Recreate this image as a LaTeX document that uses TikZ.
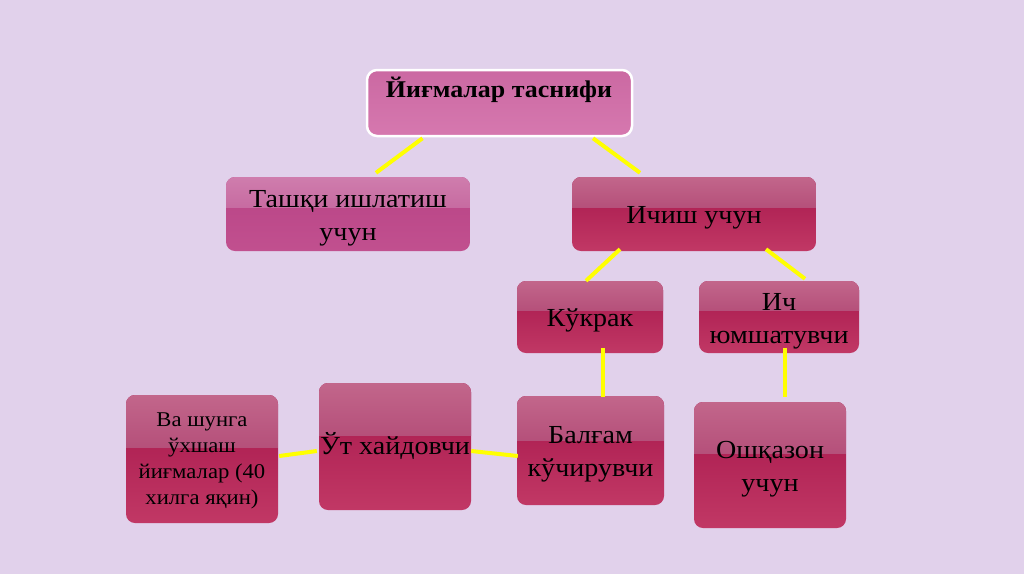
\documentclass[tikz,border=0pt]{standalone}
\usepackage{fontspec}
\setmainfont{Liberation Serif}[FakeStretch=1.08]
\usetikzlibrary{calc}
\definecolor{bg}{HTML}{E1D1EB}
\definecolor{ttopA}{HTML}{CB69A2}
\definecolor{ttopB}{HTML}{D678AF}
\definecolor{pinkA}{HTML}{CF7DAD}
\definecolor{pinkB}{HTML}{C76BA1}
\definecolor{pinkC}{HTML}{B84385}
\definecolor{pinkD}{HTML}{C1508F}
\definecolor{crA}{HTML}{C2668B}
\definecolor{crB}{HTML}{B5507A}
\definecolor{crC}{HTML}{A6164B}
\definecolor{crD}{HTML}{C13865}
\definecolor{yel}{HTML}{FFFF00}
\newcommand\boxlbl[2][-3pt]{\raisebox{#1}[\height][\depth]{\begin{tabular}{@{}c@{}}#2\end{tabular}}}
\tikzset{
  x=1pt, y=-1pt,
  conn/.style={draw=yel, line width=4pt},
  gloss/.style n args={4}{rounded corners=9pt, inner sep=0pt,
    top color=#3, bottom color=#4,
    path picture={
      \path (path picture bounding box.north west) coordinate (pa)
            (path picture bounding box.south east) coordinate (pb);
      \shade[sharp corners, top color=#1, bottom color=#2] (pa) rectangle ($(pb)!0.59!(pb|-pa)$);
    }},
  crim/.style={gloss={crA}{crB}{crC}{crD}},
  pinkbox/.style={gloss={pinkA}{pinkB}{pinkC}{pinkD}},
  bigtxt/.style={font=\fontsize{26}{33}\selectfont},
  smalltxt/.style={font=\fontsize{21}{26}\selectfont},
}
\begin{document}
\begin{tikzpicture}
\fill[bg] (0,0) rectangle (1024,574);
\useasboundingbox (0,0) rectangle (1024,574);

% top box
\node[draw=white, line width=2.5pt, rounded corners=10pt, top color=ttopA, bottom color=ttopB,
      minimum width=265pt, minimum height=66pt] (top) at (499.5,103) {};
\node[font=\fontsize{24}{26}\selectfont\bfseries] (toptext) at (499,90) {Йиғмалар таснифи};

\node[pinkbox, bigtxt, minimum width=244pt, minimum height=74pt] (left) at (348,214) {\boxlbl{Ташқи ишлатиш\\учун}};
\node[crim, bigtxt, minimum width=244pt, minimum height=74pt] (ichish) at (694,214) {\boxlbl{Ичиш учун}};
\node[crim, bigtxt, minimum width=146pt, minimum height=72pt] (kukrak) at (590,317) {\boxlbl{Кўкрак}};
\node[crim, bigtxt, minimum width=160pt, minimum height=72pt] (ich) at (779,317) {\boxlbl{Ич\\юмшатувчи}};
\node[crim, bigtxt, minimum width=147pt, minimum height=109pt] (balgam) at (590.5,450.5) {\boxlbl{Балғам\\кўчирувчи}};
\node[crim, bigtxt, minimum width=152pt, minimum height=126pt] (osh) at (770,465) {\boxlbl{Ошқазон\\учун}};
\node[crim, bigtxt, minimum width=152pt, minimum height=127pt] (ut) at (395,446.5) {\boxlbl[-1pt]{Ўт хайдовчи}};
\node[crim, smalltxt, minimum width=152pt, minimum height=128pt] (va) at (202,459) {\boxlbl[-1pt]{Ва шунга\\ўхшаш\\йиғмалар (40\\хилга яқин)}};

% connectors
\draw[conn] ([xshift=-77pt,yshift=-1pt]top.south) -- ([xshift=28pt,yshift=4pt]left.north);
\draw[conn] ([xshift=93.5pt,yshift=-1pt]top.south) -- ([xshift=-54pt,yshift=4pt]ichish.north);
\draw[conn] ([xshift=-74pt,yshift=2pt]ichish.south) -- ([xshift=-4pt,yshift=0pt]kukrak.north);
\draw[conn] ([xshift=72pt,yshift=2pt]ichish.south) -- ([xshift=26pt,yshift=2pt]ich.north);
\draw[conn] ([xshift=13pt,yshift=5pt]kukrak.south) -- ([xshift=12.5pt,yshift=-1pt]balgam.north);
\draw[conn] ([xshift=6pt,yshift=5pt]ich.south) -- ([xshift=15pt,yshift=5pt]osh.north);
\draw[conn] ([xshift=1pt,yshift=-5.5pt]balgam.west) -- ([xshift=0pt,yshift=-4.5pt]ut.east);
\draw[conn] ([xshift=-2pt,yshift=-4.5pt]ut.west) -- ([xshift=1pt,yshift=3pt]va.east);
\end{tikzpicture}
\end{document}
